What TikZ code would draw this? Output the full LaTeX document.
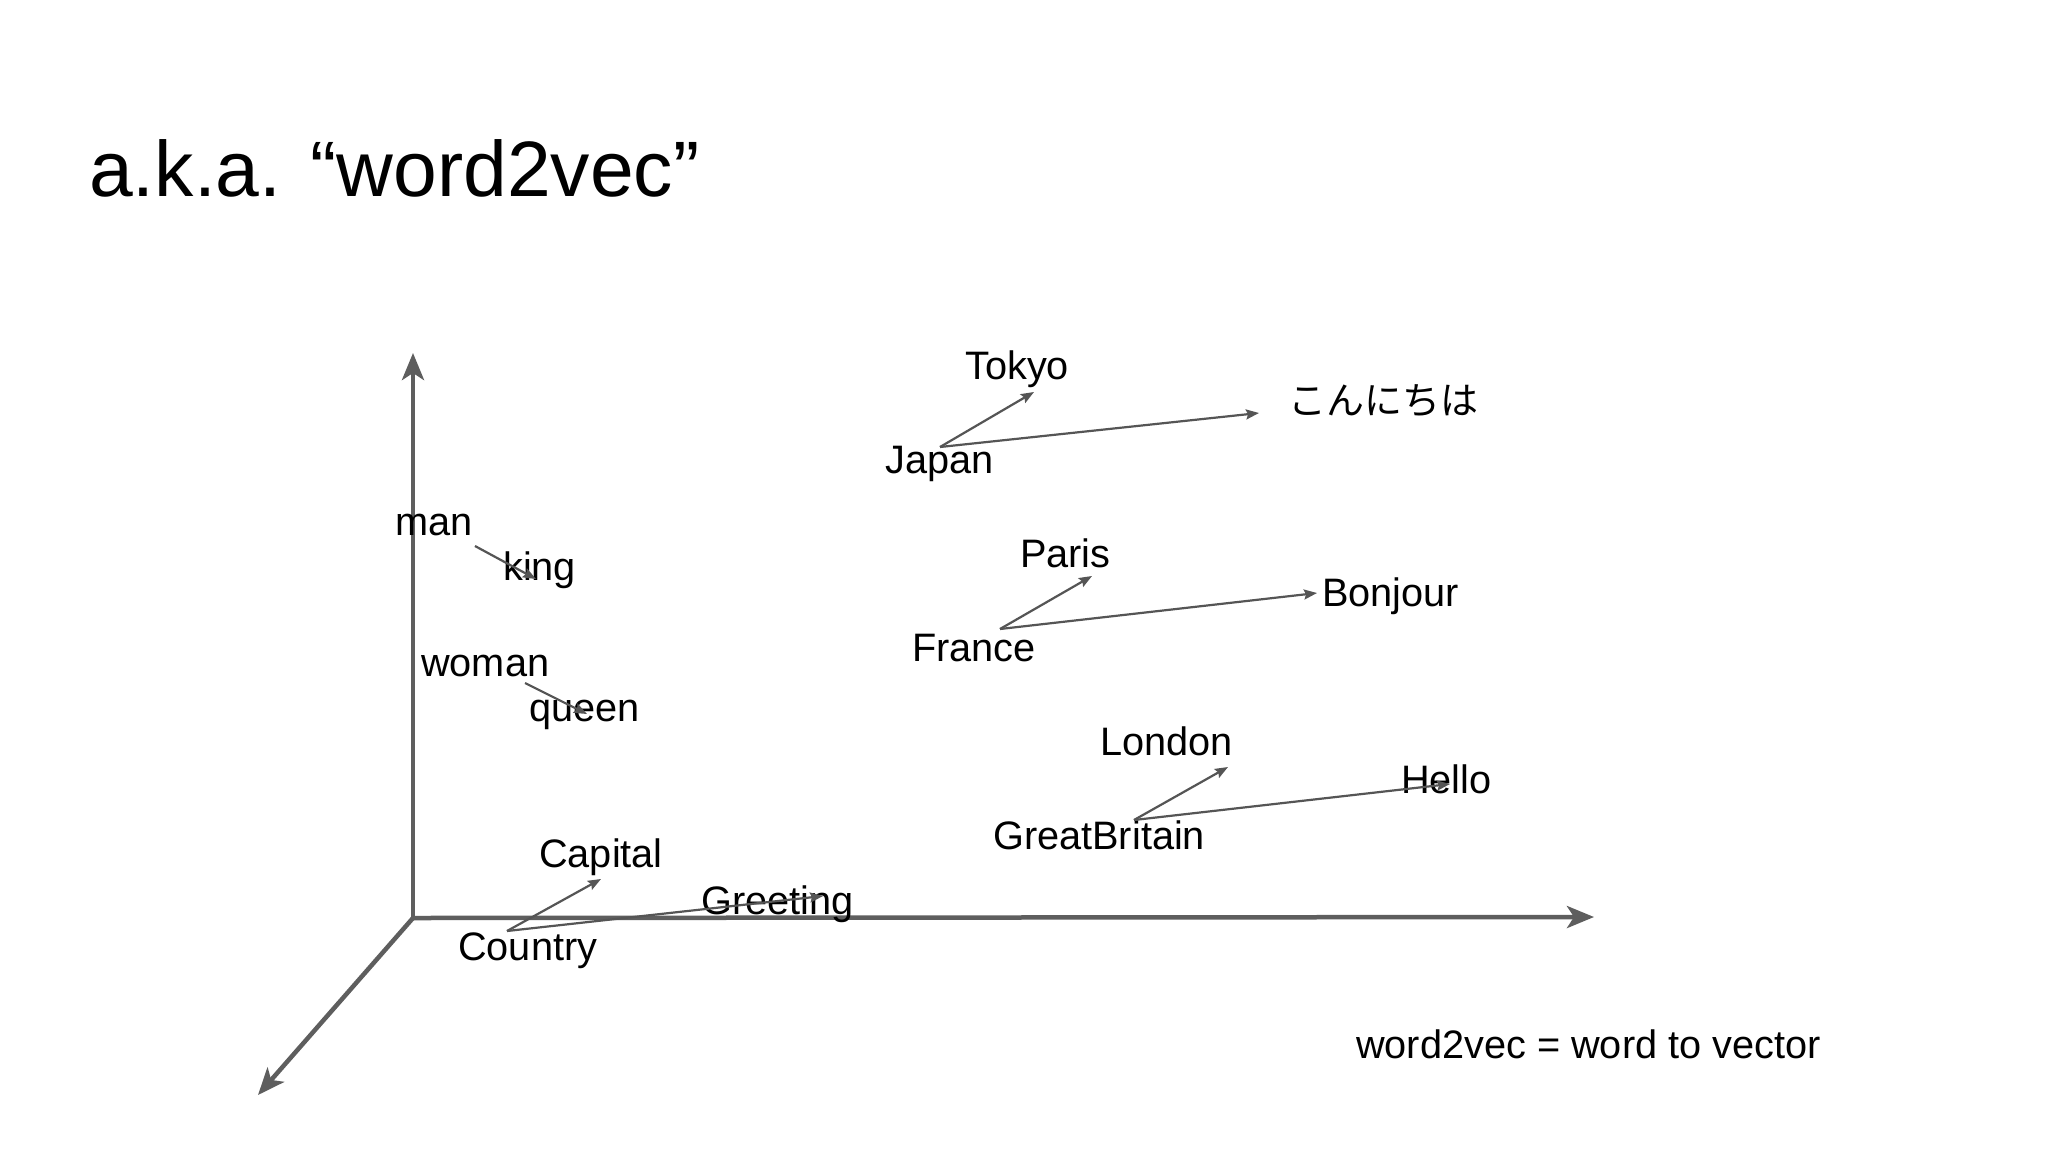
\documentclass[tikz,border=0pt]{standalone}
\usepackage{fontspec}
\setmainfont{Liberation Sans}
\newfontfamily\cjkfont{Noto Sans CJK JP}
\usetikzlibrary{arrows.meta}
\definecolor{axisgray}{HTML}{5E5E5E}
\definecolor{vecgray}{HTML}{555555}
\begin{document}
\begin{tikzpicture}[x=1pt,y=-1pt,
  axis/.style={draw=axisgray, line width=4.5pt, -{Stealth[length=27pt,width=22pt,inset=7pt]}},
  vec/.style={draw=vecgray, line width=2.2pt, -{Stealth[length=13pt,width=10pt,inset=2pt]}},
  word/.style={font=\fontsize{39.7}{44}\selectfont, inner sep=0pt, anchor=base west, text=black}]
\useasboundingbox[fill=white] (0,0) rectangle (2048,1152);

% title
\node[font=\fontsize{78.6}{90}\selectfont, inner sep=0pt, anchor=base west] (title) at (89,196) {a.k.a. “word2vec”};

% axes
\coordinate (O) at (413,918);
\coordinate (yTip) at (413,353);
\coordinate (xTip) at (1594,917);
\coordinate (zTip) at (258,1095);
\draw[axis] (O) -- (yTip);
\draw[axis] (O) -- (xTip);
\draw[axis] (O) -- (zTip);

% words
\node[word] (Tokyo) at (965,379) {Tokyo};
\node[font=\cjkfont\fontsize{38}{44}\selectfont, inner sep=0pt, anchor=center] (Konnichiwa) at (1383,401) {こんにちは};
\node[word] (Japan) at (885,473) {Japan};
\node[word] (Paris) at (1020,567) {Paris};
\node[word] (Bonjour) at (1322,606) {Bonjour};
\node[word] (France) at (912,661) {France};
\node[word] (London) at (1100,755) {London};
\node[word] (Hello) at (1401,793) {Hello};
\node[word] (GreatBritain) at (993,849) {GreatBritain};
\node[word] (man) at (395,535) {man};
\node[word] (king) at (503,580) {king};
\node[word] (woman) at (421,676) {woman};
\node[word] (queen) at (529,721) {queen};
\node[word] (Capital) at (539,867) {Capital};
\node[word] (Greeting) at (701,914) {Greeting};
\node[word] (Country) at (458,960) {Country};
\node[word] (note) at (1356,1058) {word2vec = word to vector};

% vector end points
\coordinate (jpS) at (940,447);
\coordinate (tokyoT) at (1034,392);
\coordinate (konT) at (1259,413);
\coordinate (frS) at (1000,629);
\coordinate (parisT) at (1092,576);
\coordinate (bonT) at (1317,593);
\coordinate (gbS) at (1134,820);
\coordinate (londonT) at (1228,767);
\coordinate (helloT) at (1450,784);
\coordinate (coS) at (507,931);
\coordinate (capT) at (601,879);
\coordinate (greetT) at (823,896);
\coordinate (manS) at (475,546);
\coordinate (kingT) at (536,579);
\coordinate (womanS) at (525,683);
\coordinate (queenT) at (587,714);

% vectors
\draw[vec] (jpS) -- (tokyoT);
\draw[vec] (jpS) -- (konT);
\draw[vec] (frS) -- (parisT);
\draw[vec] (frS) -- (bonT);
\draw[vec] (gbS) -- (londonT);
\draw[vec] (gbS) -- (helloT);
\draw[vec] (coS) -- (capT);
\draw[vec] (coS) -- (greetT);
\draw[vec] (manS) -- (kingT);
\draw[vec] (womanS) -- (queenT);
\end{tikzpicture}
\end{document}
